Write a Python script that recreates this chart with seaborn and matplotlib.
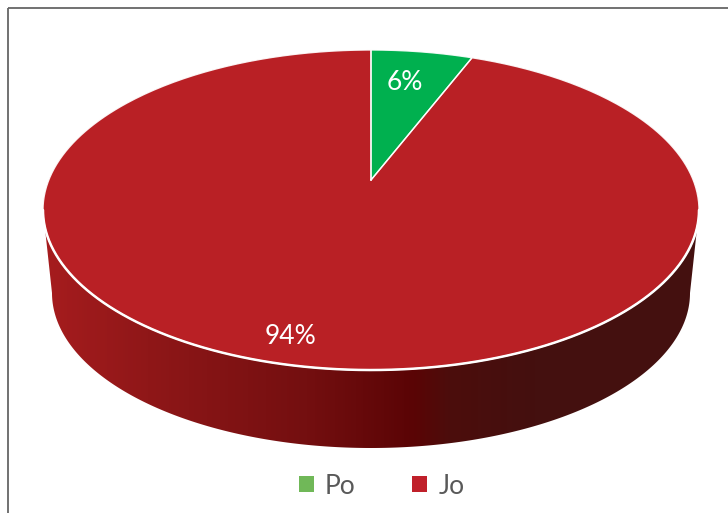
import numpy as np
import matplotlib
matplotlib.use("Agg")
import matplotlib.pyplot as plt
from matplotlib.patches import Polygon, Rectangle, Patch
from matplotlib.colors import LinearSegmentedColormap
import seaborn as sns

categories = ["Po", "Jo"]
values = [6, 94]
labels = ["6%", "94%"]
slice_colors = ["#00b04f", "#b92025"]
legend_colors = ["#70b858", "#c0202a"]

sns.set_theme(style="white")
plt.rcParams["font.family"] = ["Lato", "DejaVu Sans"]

fig = plt.figure(figsize=(7.28, 5.13), dpi=100, facecolor="white")
ax = fig.add_axes([0, 0, 1, 1])
ax.set_xlim(0, 728)
ax.set_ylim(513, 0)
ax.axis("off")

# perspective view of a round pie
CX, CY, AX, BY, K = 371, 180, 322.2, 154.4, 0.1875


def project(theta):
    u, v = np.sin(theta), np.cos(theta)
    w = 1 + K * v
    return CX + AX * u / w, CY - BY * v / w


def wedge(start, end):
    t = np.linspace(start, end, 400)
    x, y = project(t)
    return np.r_[CX, x, CX], np.r_[CY, y, CY]


# widest points of the projected rim
TH0 = np.arccos(-K)
TH1 = 2 * np.pi - TH0

# side wall: lower rim is a smaller ellipse
low_cy, low_rx, low_ry = 293, 319, 155
wall_t = np.linspace(np.pi / 2, 3 * np.pi / 2, 361)
wall_low = np.c_[CX + low_rx * np.sin(wall_t), low_cy - low_ry * np.cos(wall_t)]
tx, ty = project(np.linspace(TH0, TH1, 361))
wall = np.vstack([np.c_[tx, ty], wall_low[::-1]])
clip = Polygon(wall, closed=True, transform=ax.transData, fc="none", ec="none")
ax.add_patch(clip)

cmap = LinearSegmentedColormap.from_list(
    "wall",
    [(0.0, "#a61c1e"), (0.16, "#8f1718"), (0.4, "#740f10"), (0.565, "#5a0405"),
     (0.62, "#4c0d0c"), (0.75, "#44100f"), (1.0, "#44100f")],
)
img = ax.imshow(np.linspace(0, 1, 656)[None, :], cmap=cmap, extent=(43, 699, 460, 200),
                aspect="auto", zorder=1)
img.set_clip_path(clip)
ax.set_xlim(0, 728)
ax.set_ylim(513, 0)

# slices
fractions = np.array(values) / np.sum(values)
edges = np.r_[0, np.cumsum(fractions)] * 2 * np.pi
for i, color in enumerate(slice_colors):
    x, y = wedge(edges[i], edges[i + 1])
    ax.add_patch(Polygon(np.c_[x, y], closed=True, fc=color, ec="none", zorder=2))
    ax.plot(x, y, color="white", lw=1.0, zorder=3, solid_joinstyle="miter", alpha=0.9)

# brighter front rim
fx, fy = project(np.linspace(TH0, TH1, 400))
ax.plot(fx, fy, color="white", lw=1.8, zorder=4)

# labels
ax.text(405, 83, labels[0], color="white", fontsize=19, ha="center", va="center", zorder=5)
ax.text(290, 337, labels[1], color="white", fontsize=19, ha="center", va="center", zorder=5)

# legend
handles = [Patch(fc=c, ec="none", label=n) for c, n in zip(legend_colors, categories)]
ax.legend(handles=handles, ncol=2, loc="center", bbox_to_anchor=(381.5 / 728, 1 - 486 / 513),
          frameon=False, labelcolor="#595959", handlelength=0.57, handleheight=0.57,
          handletextpad=0.42, columnspacing=2.15, borderpad=0, prop={"size": 19})

# frame
ax.add_patch(Rectangle((8, 8), 760, 560, fc="none", ec="#666666", lw=1.3, zorder=6))
fig.savefig("out.png", dpi=100)
